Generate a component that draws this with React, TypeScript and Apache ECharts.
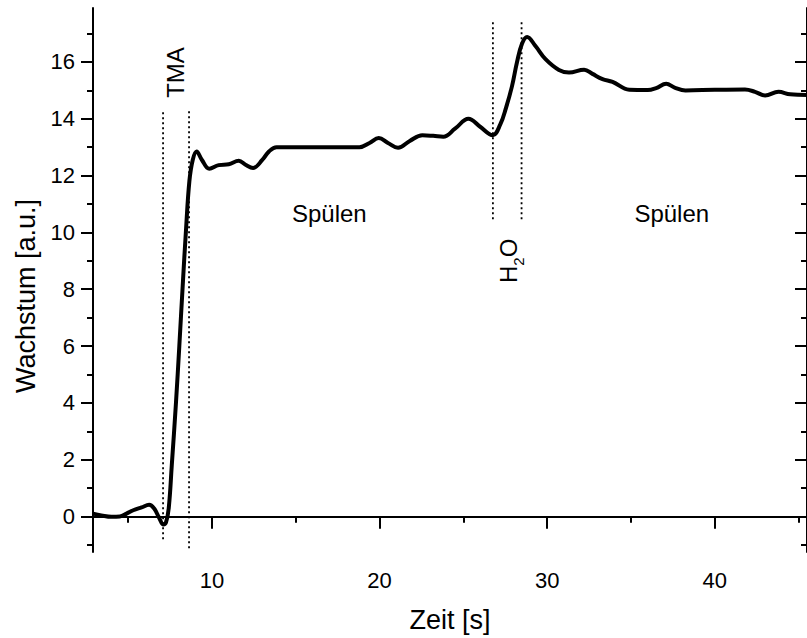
import React, { useEffect, useRef } from "react";
import * as echarts from "echarts";

const time = [
  2.9, 3.4, 4.0, 4.5, 4.9, 5.3, 5.8, 6.25, 6.55, 6.85, 7.1, 7.25, 7.42, 7.6, 7.85, 8.05, 8.25, 8.45,
  8.65, 8.85, 9.08, 9.4, 9.84, 10.4, 11.0, 11.6, 12.0, 12.45, 13.0, 13.4, 13.85, 15.0, 17.0, 18.8,
  19.4, 19.95, 20.5, 21.1, 21.8, 22.55, 23.2, 23.8, 24.5, 25.3, 26.0, 26.75, 27.2, 27.55, 27.9, 28.2,
  28.5, 28.8, 29.3, 29.9, 30.7, 31.3, 32.2, 32.7, 33.3, 33.9, 34.9, 36.0, 36.5, 37.1, 37.6, 38.25,
  40.0, 41.8, 42.4, 43.0, 43.8, 44.5, 45.5,
];
const growth = [
  0.1, 0.04, -0.01, 0.0, 0.1, 0.22, 0.32, 0.41, 0.28, -0.05, -0.28, -0.22, 0.3, 1.8, 4.0, 6.0, 8.1, 10.1,
  11.8, 12.55, 12.85, 12.55, 12.24, 12.37, 12.4, 12.52, 12.38, 12.27, 12.55, 12.85, 13.0, 13.0, 13.0, 13.0,
  13.15, 13.32, 13.15, 12.98, 13.22, 13.42, 13.4, 13.37, 13.65, 14.0, 13.72, 13.42, 13.8, 14.4, 15.15, 16.0,
  16.65, 16.88, 16.56, 16.1, 15.72, 15.63, 15.73, 15.58, 15.4, 15.3, 15.02, 15.01, 15.08, 15.23, 15.1, 15.0,
  15.02, 15.03, 14.95, 14.82, 14.95, 14.86, 14.84,
];

const xMajorTicks = [10, 20, 30, 40];
const xMinorTicks = [5, 15, 25, 35, 45];
const yMajorTicks = [0, 2, 4, 6, 8, 10, 12, 14, 16];
const yMinorTicks = [-1, 1, 3, 5, 7, 9, 11, 13, 15, 17];

// vertical dotted marker lines: [x, yBottom, yTop]
const markerLines = [
  [7.08, -0.8, 14.31],
  [8.63, -1.12, 14.31],
  [26.76, 10.46, 17.46],
  [28.47, 10.46, 17.46],
];

// annotations: [x, y, text, rotate]
const annotations: [number, number, string, number][] = [
  [7.85, 15.63, "TMA", 90],
  [17.0, 10.68, "Spülen", 0],
  [37.43, 10.68, "Spülen", 0],
  [27.7, 9.0, "{n|H}{s|2}{n|O}", 90],
];

const FONT = "Liberation Sans, Arial, sans-serif";
const X_MIN = 2.9;
const X_MAX = 45.5;
const Y_MIN = -1.25;
const Y_MAX = 17.9;

export default function App() {
  const ref = useRef<HTMLDivElement>(null);
  useEffect(() => {
    if (!ref.current) return;
    const chart = echarts.init(ref.current, null, { renderer: "svg" });
    const axisLineStyle = { color: "#000", width: 2 };
    const baseX = { type: "value", min: X_MIN, max: X_MAX, splitLine: { show: false } };
    const baseY = { type: "value", min: Y_MIN, max: Y_MAX, splitLine: { show: false } };
    const option: any = {
      animation: false,
      backgroundColor: "#fff",
      grid: { left: 93, top: 8, right: -1, bottom: 85 },
      xAxis: [
        {
          ...baseX,
          position: "bottom",
          axisLine: { show: true, lineStyle: axisLineStyle },
          axisTick: { show: true, customValues: xMajorTicks, length: 12, inside: false, lineStyle: axisLineStyle },
          axisLabel: { show: true, customValues: xMajorTicks, color: "#000", fontSize: 22, fontFamily: FONT, margin: 17 },
          name: "Zeit [s]",
          nameLocation: "middle",
          nameGap: 54,
          nameTextStyle: { color: "#000", fontSize: 27, fontFamily: FONT },
        },
        {
          ...baseX,
          position: "bottom",
          axisLine: { show: false },
          axisTick: { show: true, customValues: xMinorTicks, length: 6, inside: false, lineStyle: axisLineStyle },
          axisLabel: { show: false },
        },
        {
          ...baseX,
          position: "top",
          axisLine: { show: true, lineStyle: axisLineStyle },
          axisTick: { show: true, customValues: xMajorTicks, length: 12, inside: true, lineStyle: axisLineStyle },
          axisLabel: { show: false },
        },
        {
          ...baseX,
          position: "top",
          axisLine: { show: false },
          axisTick: { show: true, customValues: xMinorTicks, length: 6, inside: true, lineStyle: axisLineStyle },
          axisLabel: { show: false },
        },
      ],
      yAxis: [
        {
          ...baseY,
          position: "left",
          axisLine: { show: true, lineStyle: axisLineStyle },
          axisTick: { show: true, customValues: yMajorTicks, length: 12, inside: false, lineStyle: axisLineStyle },
          axisLabel: { show: true, customValues: yMajorTicks, color: "#000", fontSize: 22, fontFamily: FONT, margin: 18 },
          name: "Wachstum [a.u.]",
          nameLocation: "middle",
          nameGap: 53,
          nameTextStyle: { color: "#000", fontSize: 27, fontFamily: FONT, padding: [0, 32, 0, 0] },
        },
        {
          ...baseY,
          position: "left",
          axisLine: { show: false },
          axisTick: { show: true, customValues: yMinorTicks, length: 6, inside: false, lineStyle: axisLineStyle },
          axisLabel: { show: false },
        },
        {
          ...baseY,
          position: "right",
          axisLine: { show: true, lineStyle: axisLineStyle },
          axisTick: { show: true, customValues: yMajorTicks, length: 12, inside: true, lineStyle: axisLineStyle },
          axisLabel: { show: false },
        },
        {
          ...baseY,
          position: "right",
          axisLine: { show: false },
          axisTick: { show: true, customValues: yMinorTicks, length: 6, inside: true, lineStyle: axisLineStyle },
          axisLabel: { show: false },
        },
      ],
      series: [
        ...markerLines.map(([x, y0, y1]) => ({
          type: "line",
          xAxisIndex: 0,
          yAxisIndex: 0,
          data: [
            [x, y0],
            [x, y1],
          ],
          symbol: "none",
          silent: true,
          lineStyle: { color: "#000", width: 1.8, type: [2, 3] },
        })),
        {
          type: "line",
          xAxisIndex: 0,
          yAxisIndex: 0,
          data: time.map((t, i) => [t, growth[i]]),
          symbol: "none",
          smooth: 0.4,
          lineStyle: { color: "#000", width: 4 },
          z: 5,
        },
        {
          type: "scatter",
          xAxisIndex: 0,
          yAxisIndex: 0,
          symbolSize: 0,
          itemStyle: { color: "#000", opacity: 1 },
          silent: true,
          data: annotations.map(([x, y, text, rot]) => ({
            value: [x, y],
            label: {
              show: true,
              position: "inside",
              formatter: text,
              rotate: rot,
              color: "#000",
              opacity: 1,
              textBorderWidth: 0,
              fontSize: 24,
              fontFamily: FONT,
              rich: {
                n: { fontSize: 24, fontFamily: FONT, color: "#000", lineHeight: 34, verticalAlign: "middle" },
                s: { fontSize: 15, fontFamily: FONT, color: "#000", lineHeight: 15, verticalAlign: "bottom" },
              },
            },
          })),
        },
      ],
    };
    chart.setOption(option);
    return () => chart.dispose();
  }, []);
  return (
    <div
      ref={ref}
      style={{ position: "fixed", left: 0, top: 0, width: 807, height: 638, background: "#fff" }}
    />
  );
}
